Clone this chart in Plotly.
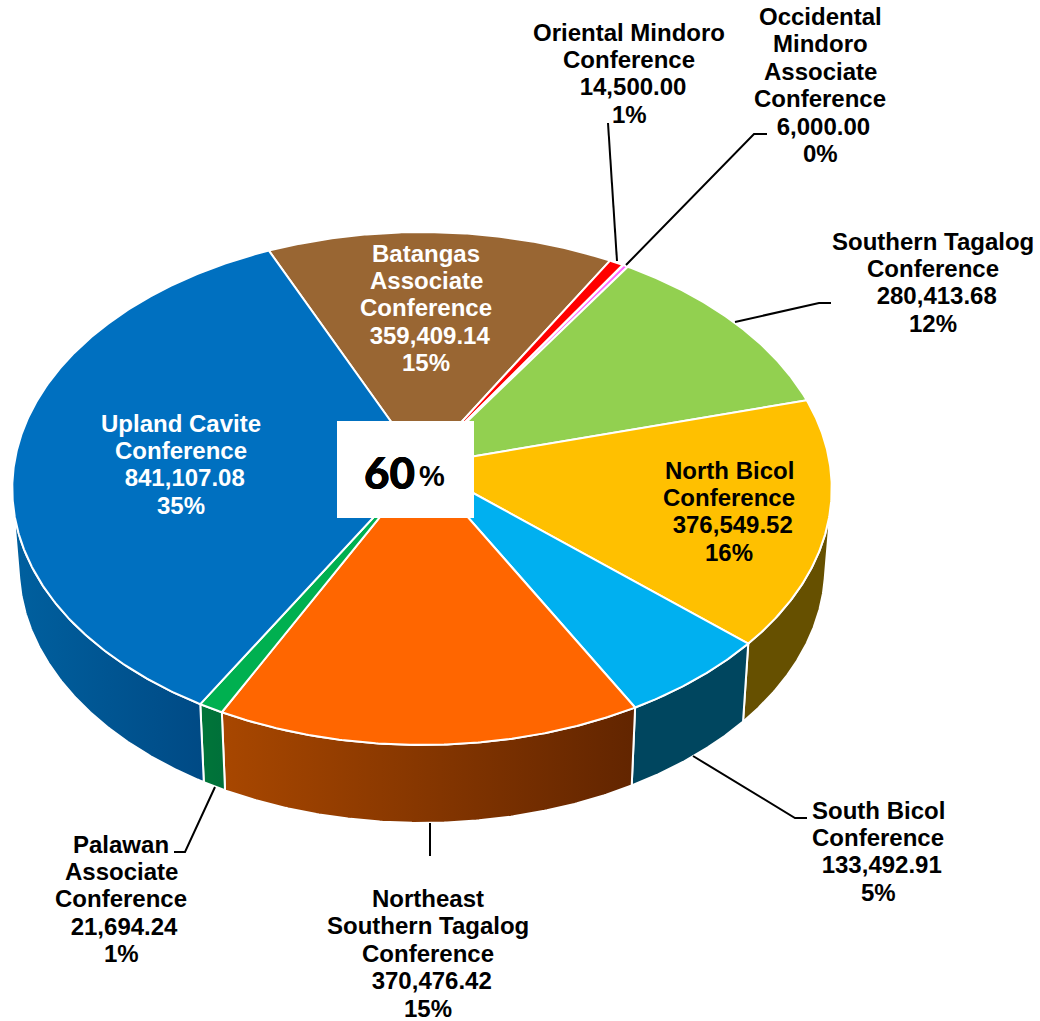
import numpy as np
import plotly.graph_objects as go

# ---- data (clockwise from the Batangas slice) ----
names = [
    ["Batangas", "Associate", "Conference"],
    ["Oriental Mindoro", "Conference"],
    ["Occidental", "Mindoro", "Associate", "Conference"],
    ["Southern Tagalog", "Conference"],
    ["North Bicol", "Conference"],
    ["South Bicol", "Conference"],
    ["Northeast", "Southern Tagalog", "Conference"],
    ["Palawan", "Associate", "Conference"],
    ["Upland Cavite", "Conference"],
]
values = [359409.14, 14500.00, 6000.00, 280413.68, 376549.52,
          133492.91, 370476.42, 21694.24, 841107.08]
percents = ["15%", "1%", "0%", "12%", "16%", "5%", "15%", "1%", "35%"]
top_colors = ["#996633", "#FF0000", "#FF66FF", "#92D050", "#FFC000",
              "#00B0F0", "#FF6600", "#00B050", "#0070C0"]
side_left = ["#7a5229", "#a00000", "#a040a0", "#5d8533", "#665000",
             "#00465f", "#a84700", "#007538", "#00609f"]
side_right = ["#7a5229", "#a00000", "#a040a0", "#5d8533", "#665000",
              "#00465f", "#622500", "#00703a", "#004a85"]
text_colors = ["white", "black", "black", "black", "black",
               "black", "black", "black", "white"]
label_x = [426, 629, 820, 933, 729, 878, 428, 121, 181]
label_top = [253, 32, 16.5, 241, 470, 810, 898.5, 844, 423]
center_text = "60"

# ---- geometry of the tilted disc (pixels of the page) ----
W, H = 1040, 1021
CX, CY = 422, 465
B, A, K = 408, 254.3, 0.0916
DEPTH, BOTTOM_SCALE = 78, 0.984
START_DEG = -24.0
SIDE_MIN, SIDE_MAX = 98, 262
LINE_PITCH = 27.4
LINE_W = 2
FONT = "Liberation Sans, Arial, sans-serif"


def rim(deg, depth=0.0, scale=1.0):
    t = np.radians(deg)
    u, v = np.sin(t), np.cos(t)
    w = 1 + K * v
    return CX + B * scale * u / w, CY - A * v / w + depth


fig = go.Figure()
total = sum(values)
edges = START_DEG + 360 * np.cumsum([0] + values) / total

# side walls
for i in range(len(values)):
    a0, a1 = max(edges[i], SIDE_MIN), min(edges[i + 1], SIDE_MAX)
    if a1 <= a0:
        continue
    d = np.linspace(a0, a1, 160)
    xt, yt = rim(d)
    xb, yb = rim(d[::-1], DEPTH, BOTTOM_SCALE)
    fig.add_trace(go.Scatter(
        x=np.r_[xt, xb, xt[0]], y=np.r_[yt, yb, yt[0]],
        mode="lines", fill="toself",
        line=dict(color="white", width=LINE_W),
        fillcolor=side_left[i],
        fillgradient=dict(type="horizontal",
                          colorscale=[[0, side_left[i]], [1, side_right[i]]]),
        hoverinfo="skip", showlegend=False))

# top slices
for i in range(len(values)):
    d = np.linspace(edges[i], edges[i + 1], max(8, int((edges[i + 1] - edges[i]) * 3)))
    xt, yt = rim(d)
    fig.add_trace(go.Scatter(
        x=np.r_[CX, xt, CX], y=np.r_[CY, yt, CY],
        mode="lines", fill="toself",
        line=dict(color="white", width=LINE_W),
        fillcolor=top_colors[i],
        hoverinfo="skip", showlegend=False))

# leader lines
leaders = [
    ([608, 617], [123, 261]),
    ([767, 754, 626], [134, 134, 265]),
    ([831, 819, 735], [303, 303, 322]),
    ([693, 795, 807], [756, 818, 818]),
    ([215, 185, 174], [787, 852, 852]),
    ([430, 430], [823, 856]),
]
for lx, ly in leaders:
    fig.add_trace(go.Scatter(x=lx, y=ly, mode="lines",
                             line=dict(color="black", width=2),
                             hoverinfo="skip", showlegend=False))

# labels, one line at a time to keep the tight line pitch
annotations = []
for i, nm in enumerate(names):
    lines = nm + ["\u00a0" + f"{values[i]:,.2f}", percents[i]]
    for j, line in enumerate(lines):
        annotations.append(dict(
            x=label_x[i], y=label_top[i] + j * LINE_PITCH, text=line,
            xref="x", yref="y", showarrow=False, borderpad=0,
            xanchor="center", yanchor="middle",
            font=dict(family=FONT, size=24, color=text_colors[i], weight="bold")))

# centre box
annotations.append(dict(
    x=416.5, y=472, text=center_text, xref="x", yref="y", showarrow=False,
    xanchor="right", yanchor="middle",
    font=dict(family="Lato, sans-serif", size=44, color="black", weight=900,
              shadow="0.35px 0 0 black, -0.35px 0 0 black")))
annotations.append(dict(
    x=417, y=476, text="%", xref="x", yref="y", showarrow=False,
    xanchor="left", yanchor="middle",
    font=dict(family=FONT, size=29, color="black", weight="bold")))

fig.update_layout(
    width=W, height=H, margin=dict(l=0, r=0, t=0, b=0),
    paper_bgcolor="white", plot_bgcolor="white",
    xaxis=dict(range=[0, W], visible=False, fixedrange=True),
    yaxis=dict(range=[H, 0], visible=False, fixedrange=True),
    shapes=[dict(type="rect", x0=337, x1=474, y0=421, y1=518, xref="x", yref="y",
                 fillcolor="white", line=dict(width=0), layer="above")],
    annotations=annotations,
)
fig.write_html("out.html", config={"displayModeBar": False},
               post_script="document.body.style.margin='0';")
